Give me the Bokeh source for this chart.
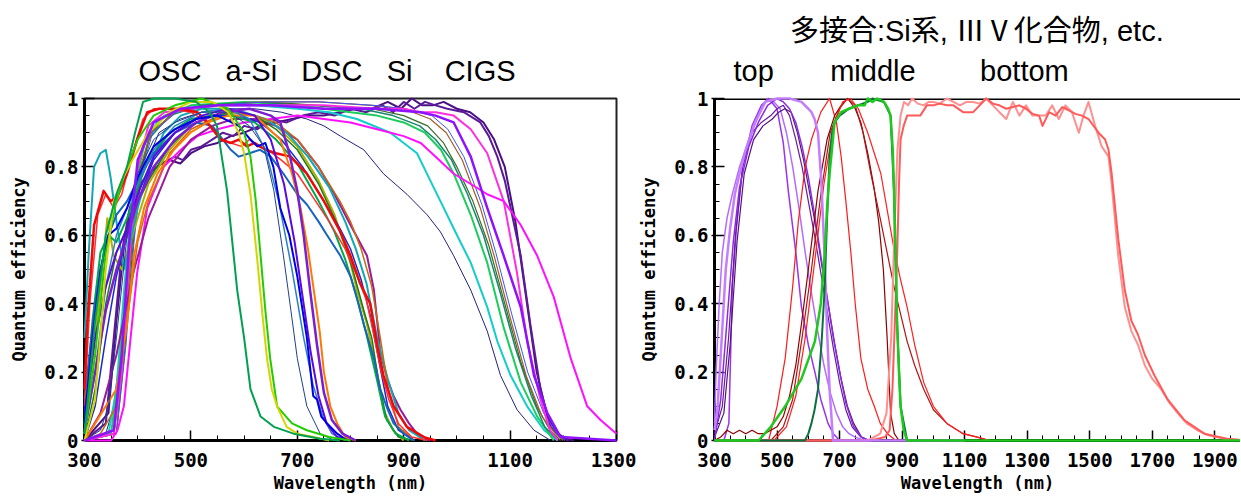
from bokeh.plotting import figure
from bokeh.models import FixedTicker, Span, Range1d, Title
from bokeh.layouts import row
from bokeh.embed import file_html
from bokeh.resources import INLINE

# ---------------- Left panel data (single-junction cells) ----------------
osc_dkgreen_wl = [300, 320, 340, 360, 380, 395, 410, 430, 470, 510, 535, 549, 568, 587, 600, 612, 631, 656, 693, 743, 780]
osc_dkgreen_qe = [0.02, 0.35, 0.6, 0.72, 0.8, 0.9, 0.99, 1.0, 1.0, 0.99, 0.96, 0.92, 0.73, 0.44, 0.3, 0.15, 0.07, 0.04, 0.02, 0.005, 0.0]
osc_yellow_wl = [300, 320, 340, 355, 370, 390, 420, 460, 500, 540, 570, 590, 600, 612, 624, 635, 643, 652, 662, 680, 700, 730, 760]
osc_yellow_qe = [0.0, 0.12, 0.5, 0.7, 0.76, 0.82, 0.9, 0.96, 0.99, 0.99, 0.96, 0.9, 0.84, 0.72, 0.54, 0.36, 0.24, 0.15, 0.1, 0.04, 0.02, 0.01, 0.0]
osc_green_wl = [300, 320, 340, 360, 380, 400, 430, 470, 520, 570, 600, 612, 622, 631, 640, 649, 662, 690, 718, 760, 800]
osc_green_qe = [0.02, 0.25, 0.55, 0.7, 0.8, 0.88, 0.95, 0.98, 1.0, 0.97, 0.9, 0.83, 0.7, 0.54, 0.38, 0.24, 0.1, 0.05, 0.03, 0.01, 0.0]
osc_navy_wl = [300, 330, 345, 360, 380, 400, 430, 470, 520, 570, 610, 637, 656, 674, 688, 700, 718, 743, 770]
osc_navy_qe = [0.0, 0.03, 0.1, 0.3, 0.6, 0.78, 0.88, 0.93, 0.96, 0.96, 0.92, 0.86, 0.73, 0.54, 0.38, 0.24, 0.1, 0.02, 0.0]
osc_blue_wl = [300, 315, 330, 345, 360, 380, 400, 430, 470, 510, 550, 590, 612, 625, 640, 655, 668, 685, 700, 718, 730, 737, 745, 756, 775, 794]
osc_blue_qe = [0.05, 0.3, 0.5, 0.6, 0.62, 0.68, 0.77, 0.86, 0.91, 0.94, 0.95, 0.92, 0.88, 0.86, 0.87, 0.8, 0.68, 0.6, 0.48, 0.3, 0.13, 0.12, 0.07, 0.05, 0.02, 0.0]
dsc_purple_wl = [300, 320, 340, 360, 380, 400, 430, 470, 510, 560, 610, 650, 668, 685, 700, 712, 724, 737, 750, 765, 785, 810]
dsc_purple_qe = [0.03, 0.2, 0.38, 0.5, 0.6, 0.7, 0.8, 0.88, 0.93, 0.96, 0.97, 0.95, 0.93, 0.84, 0.73, 0.6, 0.44, 0.28, 0.14, 0.06, 0.02, 0.0]
dsc_violet_wl = [300, 320, 340, 360, 380, 400, 430, 470, 520, 570, 620, 650, 675, 695, 710, 725, 740, 755, 775, 800]
dsc_violet_qe = [0.08, 0.3, 0.45, 0.55, 0.62, 0.72, 0.83, 0.9, 0.95, 0.97, 0.95, 0.88, 0.75, 0.58, 0.42, 0.26, 0.13, 0.05, 0.01, 0.0]
dsc_steel_wl = [300, 320, 340, 360, 380, 400, 430, 470, 520, 570, 610, 640, 665, 690, 712, 730, 748, 765, 790]
dsc_steel_qe = [0.02, 0.2, 0.45, 0.6, 0.68, 0.75, 0.85, 0.92, 0.96, 0.97, 0.94, 0.85, 0.7, 0.5, 0.3, 0.16, 0.07, 0.02, 0.0]
dsc_orange_wl = [300, 320, 340, 360, 380, 393, 412, 437, 468, 499, 531, 570, 620, 668, 690, 706, 720, 731, 742, 750, 762, 775, 790, 810]
dsc_orange_qe = [0.0, 0.05, 0.1, 0.15, 0.34, 0.54, 0.68, 0.78, 0.85, 0.9, 0.93, 0.95, 0.95, 0.88, 0.78, 0.68, 0.56, 0.44, 0.32, 0.2, 0.1, 0.05, 0.01, 0.0]
dsc_midblue_wl = [300, 320, 340, 360, 380, 400, 430, 470, 510, 540, 560, 575, 590, 610, 630, 650, 674, 700, 718, 740, 756, 781, 800, 815, 825, 844, 856, 870, 881, 900, 919]
dsc_midblue_qe = [0.12, 0.4, 0.58, 0.66, 0.7, 0.76, 0.84, 0.9, 0.93, 0.92, 0.88, 0.85, 0.83, 0.84, 0.85, 0.83, 0.78, 0.72, 0.69, 0.64, 0.6, 0.54, 0.48, 0.4, 0.34, 0.24, 0.15, 0.09, 0.05, 0.02, 0.0]
dsc_red1_wl = [300, 305, 318, 336, 349, 361, 380, 399, 418, 440, 480, 512, 531, 556, 575, 590, 605, 620, 640, 660, 687, 718, 750, 781, 800, 818, 837, 850, 862, 881, 906, 938, 960]
dsc_red1_qe = [0.15, 0.34, 0.63, 0.73, 0.70, 0.71, 0.78, 0.88, 0.96, 0.97, 0.97, 0.96, 0.93, 0.88, 0.87, 0.88, 0.86, 0.87, 0.85, 0.84, 0.83, 0.78, 0.70, 0.61, 0.54, 0.46, 0.40, 0.28, 0.19, 0.10, 0.04, 0.01, 0.0]
dsc_red2_wl = [300, 310, 325, 340, 355, 370, 390, 410, 430, 460, 500, 530, 555, 575, 595, 610, 625, 645, 670, 700, 730, 760, 790, 810, 830, 845, 858, 872, 890, 915, 945]
dsc_red2_qe = [0.1, 0.4, 0.66, 0.72, 0.68, 0.72, 0.84, 0.94, 0.97, 0.97, 0.96, 0.93, 0.88, 0.87, 0.86, 0.88, 0.86, 0.85, 0.82, 0.78, 0.71, 0.64, 0.56, 0.49, 0.41, 0.3, 0.2, 0.12, 0.05, 0.01, 0.0]
asi_olive_wl = [300, 320, 343, 355, 370, 390, 420, 460, 500, 540, 580, 620, 660, 700, 740, 770, 787, 800, 812, 831, 850, 862, 880, 900]
asi_olive_qe = [0.02, 0.3, 0.65, 0.54, 0.5, 0.6, 0.75, 0.85, 0.92, 0.95, 0.96, 0.95, 0.92, 0.86, 0.76, 0.66, 0.58, 0.52, 0.44, 0.34, 0.2, 0.09, 0.03, 0.0]
asi_plum_wl = [300, 330, 360, 390, 420, 460, 500, 540, 580, 620, 660, 700, 740, 770, 800, 831, 844, 856, 869, 881, 894, 910, 925, 950]
asi_plum_qe = [0.0, 0.08, 0.25, 0.48, 0.65, 0.8, 0.88, 0.92, 0.94, 0.94, 0.92, 0.88, 0.8, 0.72, 0.63, 0.54, 0.44, 0.26, 0.18, 0.13, 0.09, 0.05, 0.02, 0.0]
asi_dkgreen_wl = [300, 320, 340, 360, 390, 420, 460, 500, 540, 580, 620, 660, 700, 740, 770, 790, 806, 825, 840, 852, 868, 890, 920]
asi_dkgreen_qe = [0.0, 0.15, 0.4, 0.55, 0.66, 0.76, 0.86, 0.92, 0.95, 0.96, 0.95, 0.91, 0.85, 0.75, 0.65, 0.57, 0.49, 0.38, 0.3, 0.18, 0.06, 0.01, 0.0]
asi_teal_wl = [300, 308, 318, 330, 340, 349, 361, 374, 386, 400, 418, 449, 481, 520, 560, 600, 640, 680, 720, 760, 790, 810, 830, 850, 870, 890, 910, 940]
asi_teal_qe = [0.3, 0.55, 0.8, 0.84, 0.85, 0.77, 0.63, 0.5, 0.58, 0.68, 0.78, 0.9, 0.95, 0.97, 0.97, 0.96, 0.94, 0.9, 0.83, 0.74, 0.64, 0.56, 0.46, 0.3, 0.18, 0.08, 0.03, 0.0]
asi_brown_wl = [300, 330, 360, 380, 400, 420, 460, 500, 540, 580, 620, 660, 700, 740, 780, 800, 820, 840, 856, 872, 890, 920]
asi_brown_qe = [0.0, 0.02, 0.1, 0.35, 0.58, 0.7, 0.84, 0.91, 0.94, 0.96, 0.95, 0.93, 0.88, 0.8, 0.7, 0.64, 0.56, 0.45, 0.3, 0.14, 0.04, 0.0]
asi_green_wl = [300, 315, 330, 345, 360, 380, 400, 420, 460, 500, 540, 580, 620, 660, 700, 740, 770, 790, 810, 830, 848, 865, 885, 910]
asi_green_qe = [0.05, 0.35, 0.55, 0.6, 0.58, 0.65, 0.74, 0.82, 0.9, 0.94, 0.95, 0.95, 0.93, 0.88, 0.81, 0.7, 0.61, 0.53, 0.43, 0.31, 0.19, 0.07, 0.02, 0.0]
asi_blue_wl = [300, 320, 340, 360, 380, 400, 430, 470, 510, 550, 590, 630, 670, 710, 750, 780, 800, 820, 838, 855, 870, 890, 920]
asi_blue_qe = [0.0, 0.1, 0.3, 0.48, 0.6, 0.7, 0.82, 0.9, 0.94, 0.95, 0.95, 0.93, 0.88, 0.8, 0.7, 0.62, 0.56, 0.47, 0.36, 0.22, 0.1, 0.03, 0.0]
si_navy_wl = [300, 340, 355, 370, 385, 400, 440, 480, 520, 570, 620, 670, 718, 750, 781, 825, 862, 906, 944, 969, 994, 1026, 1057, 1082, 1113, 1145, 1176]
si_navy_qe = [0.0, 0.02, 0.1, 0.3, 0.55, 0.75, 0.9, 0.94, 0.96, 0.97, 0.97, 0.96, 0.94, 0.92, 0.89, 0.85, 0.78, 0.72, 0.66, 0.61, 0.54, 0.44, 0.32, 0.19, 0.09, 0.03, 0.0]
si_cyan_wl = [300, 345, 360, 375, 390, 410, 440, 480, 540, 620, 700, 760, 812, 875, 925, 950, 969, 994, 1026, 1057, 1076, 1101, 1132, 1164, 1189]
si_cyan_qe = [0.0, 0.02, 0.15, 0.45, 0.72, 0.86, 0.94, 0.97, 0.98, 0.98, 0.97, 0.96, 0.94, 0.9, 0.84, 0.76, 0.7, 0.62, 0.52, 0.39, 0.29, 0.19, 0.1, 0.03, 0.0]
si_green_wl = [300, 350, 365, 380, 395, 415, 450, 500, 600, 700, 800, 850, 900, 940, 970, 994, 1026, 1057, 1088, 1120, 1151, 1182]
si_green_qe = [0.0, 0.02, 0.2, 0.5, 0.75, 0.88, 0.95, 0.98, 0.99, 0.98, 0.96, 0.95, 0.93, 0.9, 0.85, 0.78, 0.66, 0.52, 0.33, 0.17, 0.07, 0.0]
si_teal_wl = [300, 355, 370, 385, 400, 420, 460, 520, 620, 720, 820, 880, 930, 960, 990, 1020, 1050, 1080, 1110, 1140, 1165, 1190]
si_teal_qe = [0.0, 0.02, 0.2, 0.5, 0.75, 0.88, 0.95, 0.98, 0.99, 0.98, 0.97, 0.95, 0.92, 0.88, 0.82, 0.72, 0.6, 0.44, 0.27, 0.13, 0.04, 0.0]
si_olive_wl = [300, 360, 375, 390, 405, 425, 470, 540, 640, 740, 840, 900, 945, 975, 1000, 1030, 1060, 1090, 1120, 1150, 1175, 1195]
si_olive_qe = [0.0, 0.02, 0.25, 0.55, 0.78, 0.9, 0.96, 0.98, 0.99, 0.98, 0.97, 0.95, 0.92, 0.87, 0.8, 0.7, 0.57, 0.4, 0.23, 0.1, 0.03, 0.0]
si_brown_wl = [300, 360, 375, 390, 405, 425, 470, 540, 640, 740, 840, 900, 950, 980, 1010, 1044, 1070, 1100, 1130, 1160, 1185, 1200]
si_brown_qe = [0.0, 0.02, 0.3, 0.6, 0.8, 0.9, 0.96, 0.98, 0.99, 0.99, 0.98, 0.97, 0.94, 0.9, 0.82, 0.68, 0.54, 0.36, 0.19, 0.07, 0.02, 0.0]
si_blue_wl = [300, 360, 378, 393, 408, 428, 473, 543, 643, 743, 843, 903, 953, 983, 1013, 1047, 1073, 1103, 1133, 1163, 1188, 1203]
si_blue_qe = [0.0, 0.02, 0.28, 0.58, 0.79, 0.9, 0.96, 0.98, 0.99, 0.99, 0.98, 0.97, 0.95, 0.91, 0.83, 0.69, 0.55, 0.37, 0.2, 0.08, 0.02, 0.0]
si_purple_wl = [300, 355, 370, 385, 400, 430, 480, 550, 650, 750, 850, 932, 960, 994, 1026, 1057, 1088, 1120, 1145, 1170, 1195, 1300]
si_purple_qe = [0.0, 0.03, 0.25, 0.6, 0.82, 0.93, 0.97, 0.98, 0.98, 0.97, 0.97, 0.96, 0.95, 0.93, 0.83, 0.68, 0.54, 0.39, 0.19, 0.08, 0.01, 0.0]
si_dkpurple1_wl = [300, 340, 355, 370, 385, 400, 420, 445, 470, 485, 500, 520, 540, 560, 580, 600, 625, 650, 680, 710, 740, 770, 800, 830, 860, 880, 900, 920, 940, 960, 982, 1013, 1044, 1060, 1076, 1090, 1101, 1120, 1138, 1157, 1176, 1195, 1210]
si_dkpurple1_qe = [0.0, 0.05, 0.3, 0.55, 0.68, 0.74, 0.78, 0.81, 0.83, 0.82, 0.85, 0.86, 0.88, 0.9, 0.89, 0.92, 0.91, 0.94, 0.93, 0.95, 0.96, 0.95, 0.97, 0.96, 0.98, 0.96, 0.99, 0.97, 0.99, 0.98, 0.97, 0.96, 0.93, 0.89, 0.83, 0.76, 0.68, 0.54, 0.34, 0.15, 0.04, 0.01, 0.0]
si_dkpurple2_wl = [300, 345, 360, 375, 390, 410, 435, 460, 480, 500, 525, 550, 575, 600, 630, 660, 690, 720, 750, 780, 810, 840, 870, 895, 915, 935, 955, 975, 1000, 1025, 1050, 1070, 1090, 1110, 1130, 1150, 1170, 1190, 1205, 1220]
si_dkpurple2_qe = [0.0, 0.08, 0.35, 0.58, 0.7, 0.76, 0.8, 0.82, 0.81, 0.84, 0.86, 0.87, 0.89, 0.9, 0.92, 0.93, 0.94, 0.95, 0.95, 0.96, 0.97, 0.97, 0.99, 0.97, 1.0, 0.98, 0.98, 0.99, 0.97, 0.96, 0.93, 0.88, 0.8, 0.64, 0.42, 0.2, 0.07, 0.02, 0.005, 0.0]
si_pink_wl = [300, 355, 370, 385, 400, 420, 450, 500, 560, 650, 750, 850, 900, 932, 960, 994, 1026, 1057, 1088, 1113, 1132, 1157, 1175, 1190]
si_pink_qe = [0.0, 0.02, 0.2, 0.55, 0.8, 0.92, 0.96, 0.97, 0.98, 0.98, 0.98, 0.97, 0.97, 0.96, 0.96, 0.95, 0.91, 0.84, 0.7, 0.49, 0.29, 0.12, 0.03, 0.0]
cigs_magenta_wl = [300, 350, 362, 374, 386, 399, 418, 449, 481, 512, 550, 600, 650, 700, 750, 800, 850, 900, 932, 960, 994, 1026, 1057, 1088, 1120, 1151, 1182, 1214, 1245, 1270, 1300]
cigs_magenta_qe = [0.0, 0.0, 0.03, 0.1, 0.29, 0.49, 0.68, 0.8, 0.85, 0.89, 0.91, 0.93, 0.94, 0.95, 0.94, 0.93, 0.91, 0.89, 0.87, 0.83, 0.78, 0.75, 0.72, 0.7, 0.63, 0.54, 0.42, 0.24, 0.1, 0.06, 0.02]

# ---------------- Right panel data (multi-junction subcells) ----------------
top_lilac_wl = [300, 310, 320, 336, 350, 365, 380, 400, 430, 462, 500, 540, 578, 600, 610, 620, 631, 642, 652, 660, 668, 679, 700, 900, 1100]
top_lilac_qe = [0.03, 0.1, 0.25, 0.5, 0.62, 0.72, 0.78, 0.85, 0.93, 0.99, 1.0, 1.0, 0.99, 0.97, 0.96, 0.94, 0.9, 0.75, 0.54, 0.32, 0.15, 0.0, 0.0, 0.0, 0.0]
top_lilac2_wl = [300, 305, 315, 325, 340, 357, 380, 410, 440, 470, 490, 510, 530, 550, 570, 590, 610, 630, 650, 670, 690, 710, 730, 750, 780]
top_lilac2_qe = [0.05, 0.2, 0.4, 0.55, 0.65, 0.72, 0.8, 0.88, 0.95, 1.0, 0.99, 0.97, 0.9, 0.8, 0.68, 0.55, 0.43, 0.32, 0.22, 0.14, 0.08, 0.04, 0.02, 0.01, 0.0]
top_purple_wl = [300, 330, 346, 357, 370, 390, 420, 450, 473, 500, 520, 536, 560, 578, 600, 621, 640, 663, 680, 700]
top_purple_qe = [0.0, 0.0, 0.05, 0.45, 0.62, 0.8, 0.92, 0.98, 1.0, 0.97, 0.87, 0.73, 0.55, 0.39, 0.28, 0.2, 0.12, 0.05, 0.02, 0.0]
top_dk1_wl = [300, 325, 345, 367, 390, 420, 450, 480, 500, 520, 540, 560, 580, 600, 620, 640, 660, 680, 700, 720, 740, 768, 790]
top_dk1_qe = [0.02, 0.1, 0.3, 0.6, 0.8, 0.9, 0.93, 0.95, 0.97, 0.98, 0.95, 0.88, 0.8, 0.7, 0.6, 0.49, 0.38, 0.27, 0.17, 0.09, 0.04, 0.01, 0.0]
top_dk2_wl = [300, 330, 350, 372, 395, 425, 455, 485, 505, 525, 545, 565, 585, 605, 625, 645, 665, 685, 705, 725, 745, 770, 795]
top_dk2_qe = [0.01, 0.08, 0.28, 0.58, 0.78, 0.88, 0.92, 0.94, 0.96, 0.97, 0.96, 0.9, 0.82, 0.72, 0.62, 0.5, 0.39, 0.28, 0.18, 0.1, 0.05, 0.01, 0.0]
top_violet_wl = [300, 320, 340, 360, 380, 410, 440, 470, 500, 520, 540, 560, 580, 600, 620, 640, 660, 680, 700, 720, 745, 770, 795]
top_violet_qe = [0.0, 0.12, 0.35, 0.58, 0.74, 0.86, 0.93, 0.98, 1.0, 0.99, 0.97, 0.93, 0.86, 0.77, 0.66, 0.54, 0.42, 0.3, 0.2, 0.11, 0.04, 0.01, 0.0]
mid_red_wl = [300, 420, 473, 500, 526, 550, 568, 590, 610, 640, 668, 690, 705, 720, 737, 750, 768, 790, 811, 830, 853, 880, 950]
mid_red_qe = [0.0, 0.0, 0.0, 0.1, 0.24, 0.45, 0.64, 0.8, 0.88, 0.96, 1.0, 0.93, 0.83, 0.7, 0.54, 0.4, 0.24, 0.15, 0.1, 0.05, 0.02, 0.0, 0.0]
mid_dkred_wl = [300, 320, 340, 360, 380, 400, 420, 440, 460, 480, 500, 520, 540, 560, 578, 600, 631, 660, 684, 705, 726, 750, 768, 790, 810, 825, 840, 852, 863, 875, 890]
mid_dkred_qe = [0.0, 0.01, 0.03, 0.02, 0.03, 0.02, 0.03, 0.02, 0.02, 0.03, 0.04, 0.07, 0.13, 0.22, 0.34, 0.5, 0.73, 0.88, 0.95, 0.98, 1.0, 0.97, 0.93, 0.84, 0.74, 0.64, 0.5, 0.3, 0.08, 0.02, 0.0]
mid_tailred1_wl = [300, 480, 520, 550, 580, 610, 640, 670, 700, 725, 750, 775, 800, 832, 874, 916, 940, 969, 1000, 1043, 1095, 1140, 1180]
mid_tailred1_qe = [0.0, 0.0, 0.04, 0.12, 0.3, 0.5, 0.72, 0.9, 0.97, 1.0, 0.98, 0.9, 0.78, 0.64, 0.45, 0.29, 0.22, 0.15, 0.09, 0.05, 0.02, 0.01, 0.0]
mid_tailred2_wl = [300, 490, 530, 560, 590, 620, 650, 680, 710, 735, 760, 790, 811, 832, 853, 874, 895, 916, 940, 969, 1000, 1043, 1095, 1140, 1180]
mid_tailred2_qe = [0.0, 0.0, 0.04, 0.13, 0.3, 0.52, 0.75, 0.92, 0.99, 1.0, 0.97, 0.9, 0.84, 0.78, 0.67, 0.56, 0.47, 0.39, 0.28, 0.17, 0.1, 0.05, 0.02, 0.01, 0.0]
mid_green_wl = [300, 441, 480, 526, 578, 621, 640, 652, 660, 668, 684, 705, 730, 758, 780, 790, 805, 820, 842, 855, 863, 870, 874, 879, 884, 890, 895, 905, 916, 1000, 1500, 2000]
mid_green_qe = [0.0, 0.0, 0.04, 0.1, 0.18, 0.29, 0.4, 0.54, 0.68, 0.78, 0.93, 0.96, 0.97, 0.98, 0.98, 1.0, 0.99, 1.0, 0.99, 0.97, 0.95, 0.85, 0.73, 0.55, 0.34, 0.2, 0.1, 0.03, 0.0, 0.0, 0.0, 0.0]
mid_dkgreen_wl = [300, 589, 600, 610, 620, 631, 642, 652, 660, 668, 676, 684, 700, 730, 758, 790, 805, 842, 863, 874, 884, 895, 916]
mid_dkgreen_qe = [0.0, 0.0, 0.02, 0.05, 0.09, 0.15, 0.28, 0.44, 0.65, 0.83, 0.9, 0.93, 0.95, 0.97, 0.98, 0.99, 1.0, 0.99, 0.95, 0.73, 0.34, 0.1, 0.0]
bot_salmon_wl = [300, 800, 845, 860, 869, 877, 884, 890, 895, 905, 916, 937, 958, 979, 1000, 1020, 1043, 1064, 1095, 1127, 1148, 1169, 1190, 1211, 1233, 1254, 1275, 1296, 1317, 1338, 1349, 1370, 1391, 1412, 1433, 1454, 1475, 1496, 1528, 1549, 1560, 1570, 1591, 1612, 1633, 1654, 1676, 1707, 1749, 1802, 1866, 1939, 2000]
bot_salmon_qe = [0.0, 0.0, 0.01, 0.03, 0.15, 0.35, 0.54, 0.75, 0.88, 0.92, 0.95, 0.95, 0.95, 0.98, 0.98, 0.985, 0.98, 0.98, 0.96, 0.96, 0.98, 1.0, 0.985, 0.98, 0.97, 0.975, 0.98, 0.97, 0.955, 0.95, 0.92, 0.96, 0.95, 0.975, 0.965, 0.955, 0.95, 0.94, 0.9, 0.88, 0.85, 0.78, 0.59, 0.44, 0.35, 0.31, 0.25, 0.19, 0.12, 0.06, 0.02, 0.005, 0.0]
bot_pink_wl = [300, 790, 830, 850, 865, 875, 885, 895, 906, 919, 932, 950, 969, 985, 1000, 1020, 1043, 1064, 1085, 1106, 1127, 1148, 1169, 1190, 1211, 1233, 1254, 1275, 1296, 1317, 1338, 1359, 1380, 1401, 1422, 1443, 1465, 1480, 1496, 1517, 1538, 1560, 1570, 1591, 1612, 1633, 1654, 1676, 1700, 1728, 1755, 1781, 1810, 1844, 1880, 1929, 2000]
bot_pink_qe = [0.0, 0.0, 0.02, 0.08, 0.3, 0.6, 0.85, 0.95, 0.99, 0.98, 1.0, 0.985, 0.98, 0.99, 0.99, 0.985, 1.0, 0.99, 0.98, 0.99, 0.99, 0.985, 1.0, 0.98, 0.96, 0.94, 0.99, 0.95, 0.98, 0.95, 0.95, 0.95, 0.98, 0.94, 0.98, 0.96, 0.9, 0.95, 0.99, 0.92, 0.86, 0.83, 0.75, 0.54, 0.39, 0.32, 0.28, 0.22, 0.18, 0.15, 0.11, 0.08, 0.05, 0.03, 0.015, 0.005, 0.0]

# Axis ticks and texts
y_ticks = [0, 0.2, 0.4, 0.6, 0.8, 1.0]
y_tick_labels = ["0", "0.2", "0.4", "0.6", "0.8", "1"]
left_x_ticks = [300, 500, 700, 900, 1100, 1300]
right_x_ticks = [300, 500, 700, 900, 1100, 1300, 1500, 1700, 1900]
left_titles = ["OSC", "a-Si", "DSC", "Si", "CIGS"]
right_titles = ["top", "middle", "bottom"]
right_header = "多接合:Si系, ⅢⅤ化合物, etc."
x_label = "Wavelength (nm)"
y_label = "Quantum efficiency"

left_series = [
    (si_dkpurple2_wl, si_dkpurple2_qe, "#4b0f85", 2),
    (si_dkpurple1_wl, si_dkpurple1_qe, "#5c1a99", 2),
    (si_navy_wl, si_navy_qe, "#23237e", 1),
    (si_cyan_wl, si_cyan_qe, "#14cccc", 2),
    (si_green_wl, si_green_qe, "#1ccc5c", 2),
    (si_teal_wl, si_teal_qe, "#15876c", 1.5),
    (si_olive_wl, si_olive_qe, "#3b6b2b", 1.2),
    (si_brown_wl, si_brown_qe, "#a25f24", 1.2),
    (si_blue_wl, si_blue_qe, "#3b55f5", 1),
    (si_pink_wl, si_pink_qe, "#ff2ee0", 2),
    (cigs_magenta_wl, cigs_magenta_qe, "#ff10ff", 2),
    (asi_olive_wl, asi_olive_qe, "#b0ae00", 2),
    (asi_plum_wl, asi_plum_qe, "#9a1a9a", 2),
    (asi_dkgreen_wl, asi_dkgreen_qe, "#1b7a1b", 1.5),
    (asi_teal_wl, asi_teal_qe, "#10a8b4", 2),
    (asi_brown_wl, asi_brown_qe, "#c86a10", 1.5),
    (asi_green_wl, asi_green_qe, "#00a84a", 2),
    (asi_blue_wl, asi_blue_qe, "#1a2ad0", 1.5),
    (dsc_midblue_wl, dsc_midblue_qe, "#1763bd", 2),
    (dsc_red2_wl, dsc_red2_qe, "#ff3030", 1.5),
    (dsc_red1_wl, dsc_red1_qe, "#ee0a0a", 2.5),
    (dsc_orange_wl, dsc_orange_qe, "#ff7800", 2),
    (dsc_steel_wl, dsc_steel_qe, "#2a80c8", 1.5),
    (dsc_violet_wl, dsc_violet_qe, "#5a0ae0", 2),
    (dsc_purple_wl, dsc_purple_qe, "#7a1ed0", 2.5),
    (osc_blue_wl, osc_blue_qe, "#0000e6", 2),
    (osc_navy_wl, osc_navy_qe, "#1f4090", 1),
    (osc_green_wl, osc_green_qe, "#22cc00", 2),
    (osc_yellow_wl, osc_yellow_qe, "#d6d400", 2),
    (osc_dkgreen_wl, osc_dkgreen_qe, "#00a050", 2),
    (si_purple_wl, si_purple_qe, "#8f12ff", 2.5),
]

right_series = [
    (top_lilac2_wl, top_lilac2_qe, "#b46cff", 1.5),
    (top_purple_wl, top_purple_qe, "#9933ee", 1.5),
    (top_dk1_wl, top_dk1_qe, "#6a1a9a", 1.2),
    (top_dk2_wl, top_dk2_qe, "#561080", 1.2),
    (top_violet_wl, top_violet_qe, "#8a2be2", 1.5),
    (mid_red_wl, mid_red_qe, "#ff1a1a", 1.2),
    (mid_dkred_wl, mid_dkred_qe, "#8b0000", 1.2),
    (mid_tailred1_wl, mid_tailred1_qe, "#b31212", 1.2),
    (mid_tailred2_wl, mid_tailred2_qe, "#ff2020", 1.2),
    (bot_pink_wl, bot_pink_qe, "#ff9090", 2),
    (bot_salmon_wl, bot_salmon_qe, "#ff5a5a", 2),
    (top_lilac_wl, top_lilac_qe, "#c47dff", 2.5),
    (mid_dkgreen_wl, mid_dkgreen_qe, "#0a7040", 2),
    (mid_green_wl, mid_green_qe, "#1ec81e", 2.5),
]

MONO = "DejaVu Sans Mono"
TITLE_FONT = "Liberation Sans, Noto Sans CJK JP"
NB = "\u00a0"


def make_fig(x_start, x_end, width, border_left, border_right, xticks):
    p = figure(width=width, height=496, x_range=Range1d(x_start, x_end), y_range=Range1d(0, 1),
               output_backend="svg", toolbar_location=None,
               min_border_left=border_left, min_border_right=border_right,
               min_border_top=98, min_border_bottom=56)
    p.grid.visible = False
    p.background_fill_color = "white"
    p.border_fill_color = "white"
    p.xaxis.ticker = FixedTicker(ticks=xticks, minor_ticks=list(range(300, 2001, 50)))
    p.yaxis.ticker = FixedTicker(ticks=y_ticks, minor_ticks=[i * 0.05 for i in range(21)])
    p.yaxis.major_label_overrides = {t: l for t, l in zip(y_ticks, y_tick_labels)}
    for ax in p.axis:
        ax.axis_line_width = 3
        ax.axis_line_color = "black"
        ax.major_tick_line_color = "black"
        ax.minor_tick_line_color = "black"
        ax.major_tick_line_width = 1.5
        ax.minor_tick_line_width = 1
        ax.major_label_text_font = MONO
        ax.major_label_text_font_style = "bold"
        ax.major_label_text_font_size = "19px"
        ax.major_label_text_color = "black"
        ax.axis_label_text_font = MONO
        ax.axis_label_text_font_style = "bold"
        ax.axis_label_text_font_size = "17px"
        ax.axis_label_text_color = "black"
    p.xaxis.axis_label = x_label
    p.yaxis.axis_label = y_label
    p.xaxis.major_tick_in = 10
    p.xaxis.major_tick_out = 0
    p.xaxis.minor_tick_in = 5
    p.xaxis.minor_tick_out = 0
    p.xaxis.major_label_standoff = 12
    p.xaxis.axis_label_standoff = 3
    p.yaxis.major_tick_in = 10
    p.yaxis.major_tick_out = 3
    p.yaxis.minor_tick_in = 5
    p.yaxis.minor_tick_out = 0
    p.yaxis.major_label_standoff = 3
    p.yaxis.axis_label_standoff = 12
    return p


def add_title(p, text, offset):
    p.add_layout(Title(text=text, align="left", offset=offset, standoff=23,
                       text_font=TITLE_FONT, text_font_style="normal",
                       text_font_size="29px", text_line_height=1.25,
                       text_color="black"), "above")


# ---------------- Left figure ----------------
p1 = make_fig(300, 1300, 636, 84, 20, left_x_ticks)
p1.outline_line_color = "#222222"
p1.outline_line_width = 2
for wl, qe, color, w in left_series:
    assert len(wl) == len(qe)
    p1.line(wl, qe, line_color=color, line_width=w, line_join="round", level="overlay")

left_line = (left_titles[0] + NB * 3 + left_titles[1] + NB * 3 + left_titles[2]
             + NB * 3 + left_titles[3] + NB * 4 + left_titles[4])
add_title(p1, NB + "\n" + left_line, 54)

# ---------------- Right figure ----------------
p2 = make_fig(300, 1982, 604, 76, 0, right_x_ticks)
p2.outline_line_color = None
p2.add_layout(Span(location=1, dimension="width", line_color="black", line_width=3))
for wl, qe, color, w in right_series:
    assert len(wl) == len(qe)
    p2.line(wl, qe, line_color=color, line_width=w, line_join="round", level="overlay")

right_line = right_titles[0] + NB * 7 + right_titles[1] + NB * 8 + right_titles[2]
add_title(p2, NB * 7 + right_header + "\n" + right_line, 19)

layout = row(p1, p2)
open("out.html", "w").write(file_html(layout, INLINE))
